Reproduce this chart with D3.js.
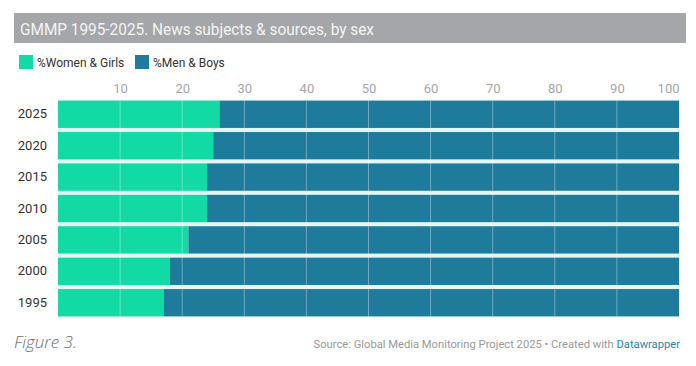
<!DOCTYPE html>
<html>
<head>
<meta charset="utf-8">
<script src="https://cdn.jsdelivr.net/npm/d3@7"></script>
<style>
  body { margin: 0; background: #fff; }
  svg { display: block; font-family: Roboto, "Noto Sans", sans-serif; }
</style>
</head>
<body>
<svg id="chart" width="696" height="366"></svg>
<script>
var years = ["2025", "2020", "2015", "2010", "2005", "2000", "1995"];
var women = [26, 25, 24, 24, 21, 18, 17];
var men = [74, 75, 76, 76, 79, 82, 83];
var ticks = [10, 20, 30, 40, 50, 60, 70, 80, 90, 100];
var seriesNames = ["%Women & Girls", "%Men & Boys"];
var colors = ["#12daa4", "#1f7b9b"];

var svg = d3.select("#chart"),
    margin = {top: 100, left: 58, right: 17, bottom: 49},
    width = 696 - margin.left - margin.right,
    height = 366 - margin.top - margin.bottom;

// title bar
svg.append("rect")
    .attr("x", 14).attr("y", 13)
    .attr("width", 672).attr("height", 30)
    .attr("fill", "#a4a6a9");
svg.append("text")
    .attr("x", 20).attr("y", 35)
    .attr("fill", "#f4f4f4")
    .attr("textLength", 354)
    .attr("lengthAdjust", "spacingAndGlyphs")
    .style("font-size", "17px")
    .text("GMMP 1995-2025. News subjects & sources, by sex");

// legend
var legX = [19, 135];
seriesNames.forEach(function(n, i) {
    svg.append("rect")
        .attr("x", legX[i]).attr("y", 55)
        .attr("width", 14).attr("height", 14)
        .attr("fill", colors[i]);
    svg.append("text")
        .attr("x", legX[i] + 18).attr("y", 67)
        .attr("fill", "#333")
        .style("font-size", "12px")
        .text(n);
});

var x = d3.scaleLinear().domain([0, 100]).range([0, width]);
var y = d3.scaleBand().domain(years).range([0, height]).paddingInner(0.13).paddingOuter(0.02);

var g = svg.append("g").attr("transform", "translate(" + margin.left + "," + margin.top + ")");

// gap band behind bars (light cyan between rows)
g.append("rect")
    .attr("x", 0).attr("y", y(years[0]) - 1)
    .attr("width", width).attr("height", y(years[years.length - 1]) + y.bandwidth() - y(years[0]) + 2)
    .attr("fill", "#e2f7f4");

var rows = g.selectAll("g.row")
    .data(years)
    .enter().append("g")
    .attr("class", "row")
    .attr("transform", function(d) { return "translate(0," + y(d) + ")"; });

rows.append("rect")
    .attr("x", 0)
    .attr("height", y.bandwidth())
    .attr("width", function(d, i) { return x(women[i]); })
    .attr("fill", colors[0]);

rows.append("rect")
    .attr("x", function(d, i) { return x(women[i]); })
    .attr("height", y.bandwidth())
    .attr("width", function(d, i) { return x(women[i] + men[i]) - x(women[i]); })
    .attr("fill", colors[1]);

// grid lines over bars
g.append("g")
    .selectAll("line")
    .data(ticks.filter(function(t) { return t < 100; }))
    .enter().append("line")
    .attr("x1", function(d) { return x(d); })
    .attr("x2", function(d) { return x(d); })
    .attr("y1", y(years[0]))
    .attr("y2", y(years[years.length - 1]) + y.bandwidth())
    .attr("stroke", "#ffffff")
    .attr("stroke-opacity", 0.35)
    .attr("stroke-width", 1);

// top axis labels
var axis = g.append("g")
    .call(d3.axisTop(x).tickValues(ticks).tickSize(0).tickPadding(7));
axis.select(".domain").remove();
axis.selectAll("text")
    .attr("fill", "#a6a6a6")
    .style("font-family", "Roboto, sans-serif")
    .style("font-size", "13px")
    .attr("text-anchor", function(d) { return d === 100 ? "end" : "middle"; });

// year labels
var yAxis = g.append("g")
    .call(d3.axisLeft(y).tickSize(0).tickPadding(11));
yAxis.select(".domain").remove();
yAxis.selectAll("text")
    .attr("fill", "#333")
    .style("font-family", "Roboto, sans-serif")
    .style("font-size", "13px");

// footer
svg.append("text")
    .attr("x", 14).attr("y", 348)
    .attr("fill", "#707070")
    .style("font-style", "italic")
    .style("font-family", "'Open Sans', sans-serif")
    .style("font-weight", 300)
    .style("font-size", "17px")
    .text("Figure 3.");

var src = svg.append("text")
    .attr("x", 680).attr("y", 348)
    .attr("text-anchor", "end")
    .attr("fill", "#999")
    .style("font-size", "11.2px");
src.append("tspan").text("Source: Global Media Monitoring Project 2025 \u2022 Created with ");
src.append("tspan").attr("fill", "#2b86a8").text("Datawrapper");
</script>
</body>
</html>
